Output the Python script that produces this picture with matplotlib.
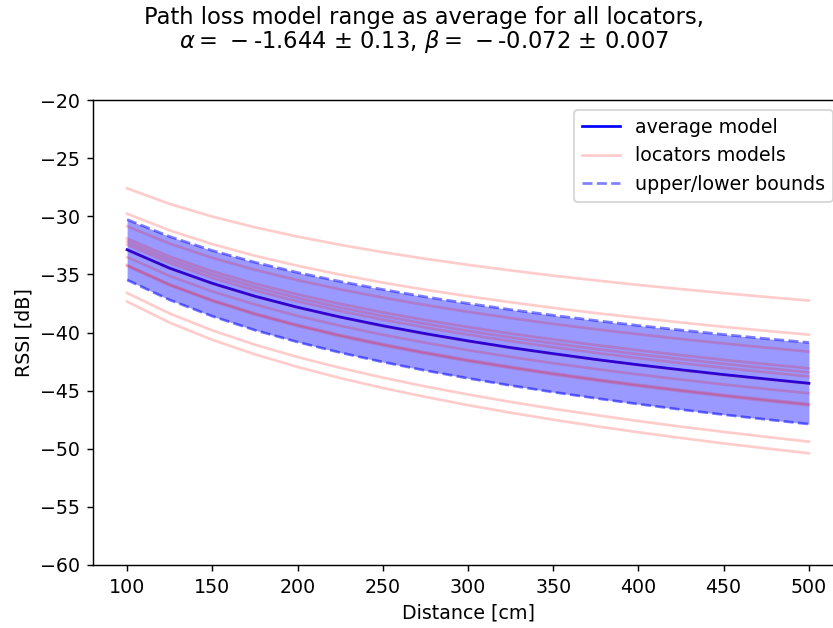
import matplotlib
matplotlib.use("Agg")
import matplotlib.pyplot as plt

# distances [cm]
distance = [100, 125, 150, 175, 200, 225, 250, 275, 300,
            325, 350, 375, 400, 425, 450, 475, 500]

# RSSI values [dB]
average_model = [-32.88, -34.47, -35.77, -36.88, -37.83, -38.67, -39.42, -40.10, -40.72,
                 -41.30, -41.82, -42.32, -42.78, -43.21, -43.62, -44.00, -44.37]
upper_bound = [-30.28, -31.75, -32.95, -33.96, -34.84, -35.61, -36.30, -36.93, -37.50,
               -38.03, -38.52, -38.97, -39.40, -39.79, -40.17, -40.53, -40.86]
lower_bound = [-35.48, -37.20, -38.60, -39.80, -40.82, -41.73, -42.54, -43.27, -43.94,
               -44.56, -45.13, -45.66, -46.16, -46.63, -47.07, -47.48, -47.88]

loc_01 = [-27.60, -28.94, -30.03, -30.95, -31.75, -32.46, -33.09, -33.66, -34.18,
          -34.66, -35.11, -35.52, -35.91, -36.27, -36.61, -36.94, -37.25]
loc_02 = [-29.78, -31.22, -32.40, -33.40, -34.26, -35.02, -35.71, -36.32, -36.88,
          -37.40, -37.88, -38.33, -38.74, -39.14, -39.51, -39.86, -40.19]
loc_03 = [-30.86, -32.36, -33.58, -34.61, -35.50, -36.29, -37.00, -37.64, -38.22,
          -38.76, -39.26, -39.72, -40.15, -40.56, -40.94, -41.30, -41.65]
loc_04 = [-31.92, -33.47, -34.73, -35.80, -36.72, -37.54, -38.27, -38.93, -39.53,
          -40.09, -40.60, -41.08, -41.53, -41.95, -42.35, -42.72, -43.08]
loc_05 = [-32.18, -33.74, -35.01, -36.09, -37.02, -37.85, -38.58, -39.25, -39.86,
          -40.42, -40.93, -41.42, -41.87, -42.29, -42.69, -43.07, -43.43]
loc_06 = [-32.44, -34.01, -35.30, -36.38, -37.32, -38.15, -38.89, -39.57, -40.18,
          -40.74, -41.26, -41.75, -42.21, -42.63, -43.04, -43.42, -43.78]
loc_07 = [-32.90, -34.49, -35.80, -36.90, -37.85, -38.69, -39.45, -40.13, -40.75,
          -41.32, -41.85, -42.34, -42.80, -43.24, -43.65, -44.03, -44.40]
loc_08 = [-33.52, -35.14, -36.47, -37.59, -38.57, -39.42, -40.19, -40.88, -41.52,
          -42.10, -42.64, -43.14, -43.61, -44.05, -44.47, -44.86, -45.23]
loc_09 = [-34.20, -35.86, -37.21, -38.36, -39.35, -40.22, -41.00, -41.71, -42.36,
          -42.95, -43.50, -44.02, -44.50, -44.95, -45.37, -45.77, -46.15]
loc_10 = [-34.28, -35.94, -37.30, -38.45, -39.44, -40.32, -41.10, -41.81, -42.46,
          -43.05, -43.61, -44.12, -44.60, -45.05, -45.48, -45.88, -46.26]
loc_11 = [-36.60, -38.37, -39.82, -41.05, -42.11, -43.04, -43.88, -44.64, -45.33,
          -45.97, -46.56, -47.10, -47.62, -48.10, -48.55, -48.98, -49.39]
loc_12 = [-37.34, -39.15, -40.63, -41.88, -42.96, -43.92, -44.77, -45.54, -46.25,
          -46.90, -47.50, -48.06, -48.58, -49.07, -49.54, -49.97, -50.39]
locators = [loc_01, loc_02, loc_03, loc_04, loc_05, loc_06,
            loc_07, loc_08, loc_09, loc_10, loc_11, loc_12]

y_ticks = [-60, -55, -50, -45, -40, -35, -30, -25, -20]
x_ticks = [100, 150, 200, 250, 300, 350, 400, 450, 500]

plt.rcParams["font.size"] = 10.5

fig = plt.figure(figsize=(833 / 130, 628 / 130), dpi=130)
ax = fig.add_axes([93 / 833, 63 / 628, 750 / 833, 465 / 628])

ax.plot(distance, average_model, color="b", lw=1.5, label="average model", zorder=2)
ax.fill_between(distance, lower_bound, upper_bound, color="b", alpha=0.4, lw=0, zorder=2.1)
for i, loc in enumerate(locators):
    ax.plot(distance, loc, color="r", alpha=0.2, lw=1.5,
            label="locators models" if i == 0 else None, zorder=2.2)
ax.plot(distance, upper_bound, "b--", alpha=0.5, lw=1.5, label="upper/lower bounds", zorder=2.3)
ax.plot(distance, lower_bound, "b--", alpha=0.5, lw=1.5, zorder=2.3)

ax.set_xlim(80, 520)
ax.set_ylim(-60, -20)
ax.set_xticks(x_ticks)
ax.set_yticks(y_ticks)
ax.set_xlabel("Distance [cm]")
ax.set_ylabel("RSSI [dB]")
ax.legend(loc="upper right", borderaxespad=0.55)

fig.text(0.509, 1 - 6 / 628,
         "Path loss model range as average for all locators,\n"
         r"$\alpha=\,-$-1.644 ± 0.13, $\beta=\,-$-0.072 ± 0.007",
         ha="center", va="top", fontsize=12.5, linespacing=0.97)

fig.savefig("out.png", dpi=130)
